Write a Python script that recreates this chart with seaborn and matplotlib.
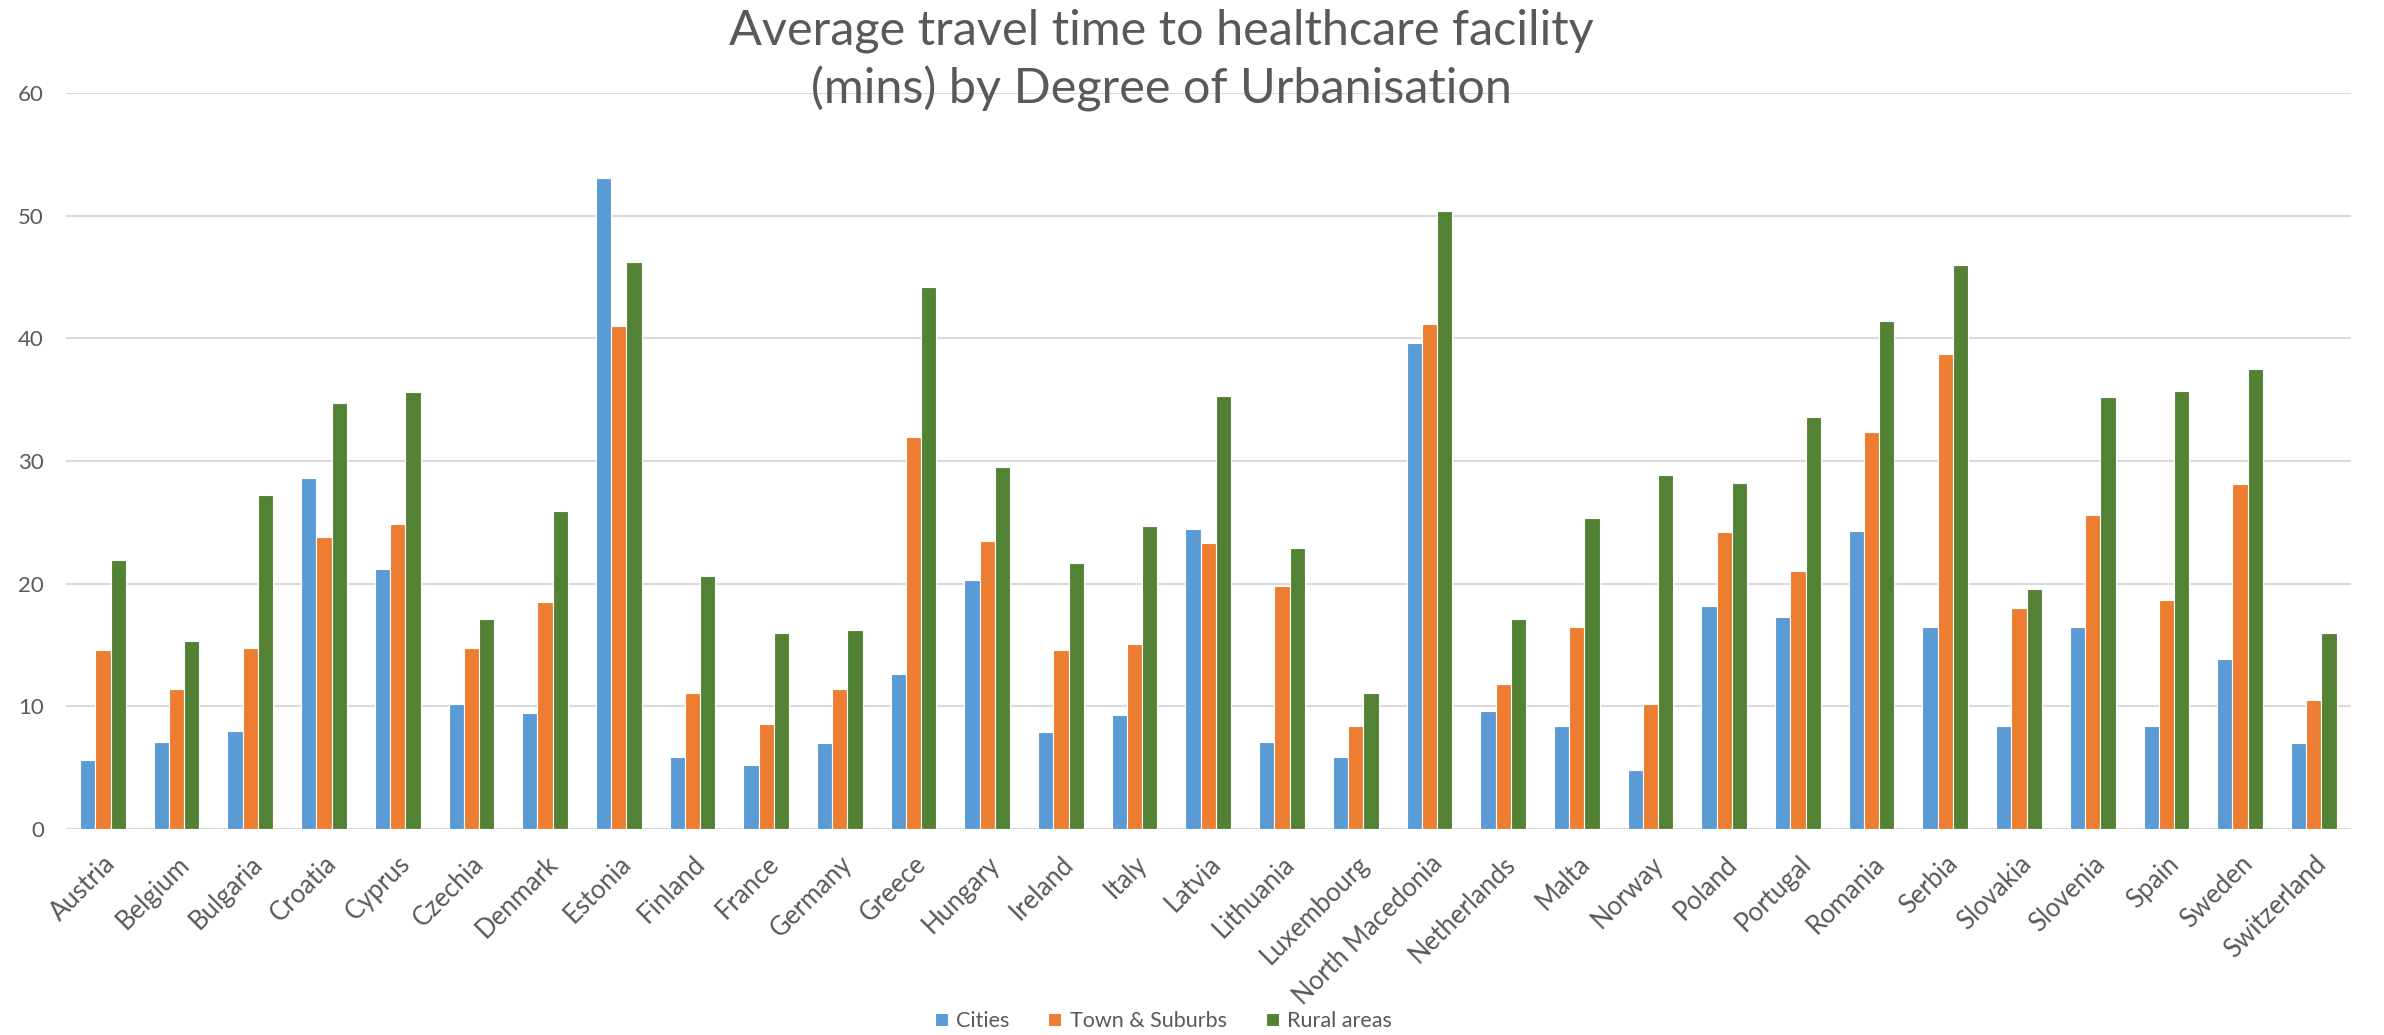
import numpy as np
import pandas as pd
import seaborn as sns
import matplotlib.pyplot as plt

countries = ["Austria", "Belgium", "Bulgaria", "Croatia", "Cyprus", "Czechia", "Denmark",
             "Estonia", "Finland", "France", "Germany", "Greece", "Hungary", "Ireland",
             "Italy", "Latvia", "Lithuania", "Luxembourg", "North Macedonia", "Netherlands",
             "Malta", "Norway", "Poland", "Portugal", "Romania", "Serbia", "Slovakia",
             "Slovenia", "Spain", "Sweden", "Switzerland"]

cities = [5.6, 7.1, 8.0, 28.6, 21.2, 10.2, 9.5, 53.1, 5.9, 5.2, 7.0, 12.6, 20.3, 7.9,
          9.3, 24.5, 7.1, 5.9, 39.6, 9.6, 8.4, 4.8, 18.2, 17.3, 24.3, 16.5, 8.4,
          16.5, 8.4, 13.9, 7.0]
towns = [14.6, 11.4, 14.8, 23.8, 24.9, 14.8, 18.5, 41.0, 11.1, 8.6, 11.4, 32.0, 23.5, 14.6,
         15.1, 23.3, 19.8, 8.4, 41.2, 11.8, 16.5, 10.2, 24.2, 21.0, 32.4, 38.7, 18.0,
         25.6, 18.7, 28.1, 10.5]
rural = [21.9, 15.3, 27.2, 34.7, 35.6, 17.1, 25.9, 46.2, 20.6, 16.0, 16.2, 44.2, 29.5, 21.7,
         24.7, 35.3, 22.9, 11.1, 50.4, 17.1, 25.4, 28.9, 28.2, 33.6, 41.4, 46.0, 19.6,
         35.2, 35.7, 37.5, 16.0]

series_names = ["Cities", "Town & Suburbs", "Rural areas"]
colors = ["#5B9BD5", "#ED7D31", "#548235"]

df = pd.DataFrame({"country": countries, series_names[0]: cities,
                   series_names[1]: towns, series_names[2]: rural})
df_long = df.melt(id_vars="country", var_name="area", value_name="minutes")

sns.set_style("white")
plt.rcParams['font.family'] = ['Lato', 'DejaVu Sans']

fig = plt.figure(figsize=(23.84, 10.35), dpi=100)
ax = fig.add_axes([0.0277, 0.199, 0.9583, 0.711])

sns.barplot(data=df_long, x="country", y="minutes", hue="area", order=countries,
            hue_order=series_names, palette=colors, width=0.62, edgecolor="white",
            linewidth=0.8, saturation=1, ax=ax)

ax.set_ylim(0, 60)
ax.set_xlim(-0.5, len(countries) - 0.5)
ax.set_yticks(np.arange(0, 61, 10))
ax.yaxis.grid(True, color="#D9D9D9", linewidth=1.5)
ax.set_axisbelow(True)
for s in ax.spines.values():
    s.set_visible(False)
ax.tick_params(axis="both", length=0, colors="#595959", labelsize=16)
ax.tick_params(axis="y", pad=16)
ax.set_xlabel("")
ax.set_ylabel("")
plt.setp(ax.get_xticklabels(), rotation=45, ha="right", rotation_mode="anchor",
         fontsize=18.5)
ax.tick_params(axis="x", pad=16)

fig.text(0.487, 1 - 60 / 1035, "Average travel time to healthcare facility\n(mins) by Degree of Urbanisation",
         ha="center", va="center", fontsize=35, color="#595959", linespacing=1.33)

ax.legend(loc="center", bbox_to_anchor=(0.488, 1 - 1021 / 1035), bbox_transform=fig.transFigure,
          ncol=3, frameon=False, fontsize=15.5, handlelength=0.6, handleheight=0.6,
          handletextpad=0.4, columnspacing=1.8, labelcolor="#595959")

fig.savefig("out.png", dpi=100)
